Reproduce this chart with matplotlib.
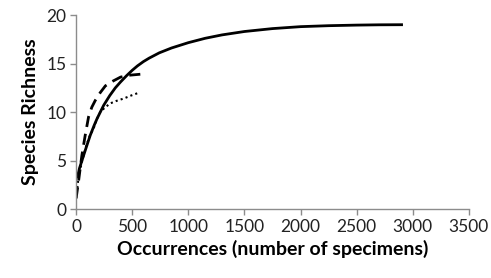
import matplotlib
matplotlib.use("Agg")
import matplotlib.pyplot as plt

# rarefaction curves
solid_x = [12, 30, 66, 100, 126, 160, 186, 220, 246, 300, 350, 396, 450, 500, 546, 600, 650, 741,
           850, 1000, 1150, 1300, 1500, 1750, 2000, 2250, 2500, 2700, 2900]
solid_y = [3.3, 4.2, 5.5, 6.7, 7.6, 8.6, 9.3, 10.1, 10.7, 11.7, 12.5, 13.1, 13.75, 14.3, 14.75, 15.2, 15.55, 16.1,
           16.6, 17.15, 17.6, 17.95, 18.3, 18.6, 18.8, 18.9, 18.96, 18.99, 19.0]

dash_x = [0, 21, 51, 81, 111, 140, 171, 215, 261, 330, 396, 480, 576]
dash_y = [1.1, 2.8, 5.5, 7.6, 9.5, 10.5, 11.2, 12.0, 12.7, 13.2, 13.6, 13.8, 13.9]

dot_x = [0, 21, 50, 90, 120, 156, 186, 216, 260, 306, 360, 426, 490, 561]
dot_y = [1.1, 3.2, 4.8, 6.5, 7.5, 8.3, 9.3, 10.0, 10.5, 10.9, 11.15, 11.4, 11.7, 12.0]

x_ticks = [0, 500, 1000, 1500, 2000, 2500, 3000, 3500]
y_ticks = [0, 5, 10, 15, 20]

plt.rcParams["font.family"] = ["Lato", "DejaVu Sans"]

fig = plt.figure(figsize=(4.91, 2.78), dpi=100)
ax = fig.add_axes([0.155, 0.248, 0.8, 0.698])

ax.plot(dot_x, dot_y, color="black", linewidth=1.5, linestyle=(0, (1, 1.5)))
ax.plot(dash_x, dash_y, color="black", linewidth=2.0, linestyle=(0, (4, 2.5)))
ax.plot(solid_x, solid_y, color="black", linewidth=2.0, solid_joinstyle="round")

ax.set_xlim(0, 3500)
ax.set_ylim(0, 20)
ax.set_xticks(x_ticks)
ax.set_yticks(y_ticks)

for s in ["top", "right"]:
    ax.spines[s].set_visible(False)
for s in ["left", "bottom"]:
    ax.spines[s].set_color("#8c8c8c")
    ax.spines[s].set_linewidth(1.0)
ax.tick_params(colors="#8c8c8c", labelcolor="#222222", labelsize=12.5, length=4, width=1.0, pad=3)

ax.set_xlabel("Occurrences (number of specimens)", fontsize=14, fontweight="bold", labelpad=4)
ax.set_ylabel("Species Richness", fontsize=14, fontweight="bold", labelpad=5)

fig.savefig("out.png", dpi=100)
